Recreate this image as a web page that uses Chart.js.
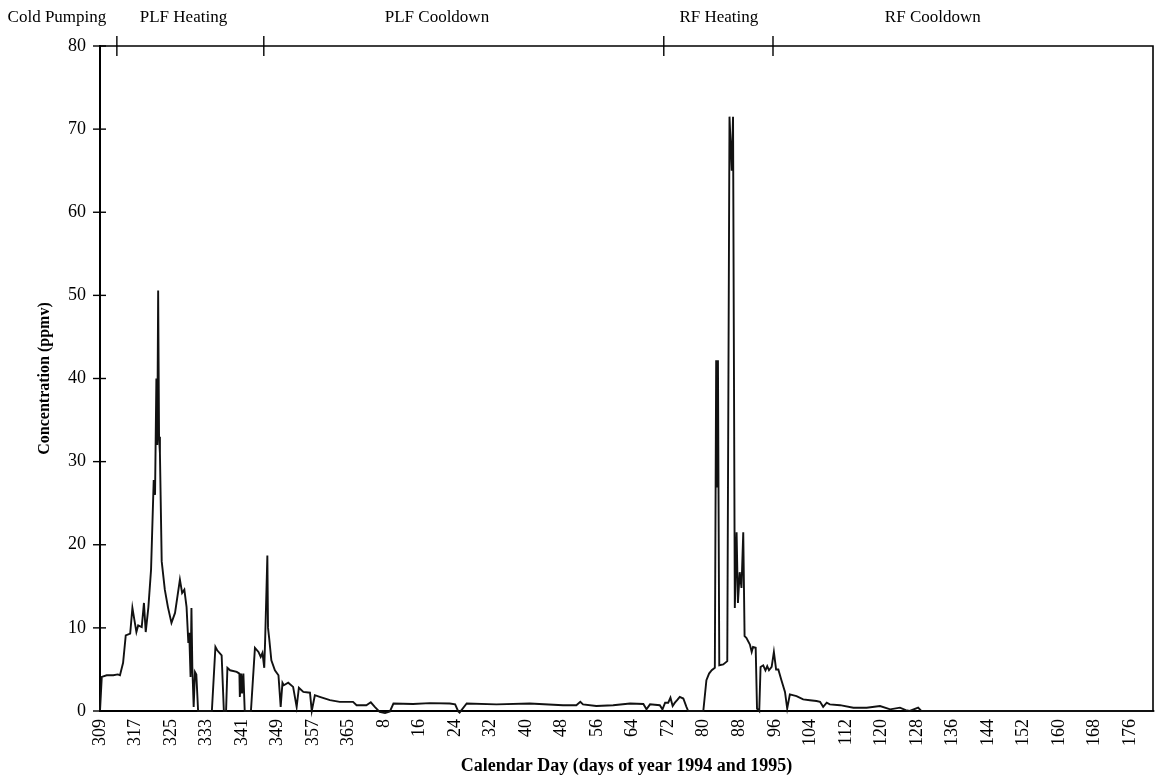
<!DOCTYPE html>
<html>
<head>
<meta charset="utf-8">
<script src="https://cdn.jsdelivr.net/npm/chart.js@4/dist/chart.umd.min.js"></script>
<style>
  html, body { margin: 0; padding: 0; background: #fff; }
  #wrap { width: 1164px; height: 780px; position: relative; }
</style>
</head>
<body>
<div id="wrap"><canvas id="c" width="1164" height="780"></canvas></div>
<script>
// Day axis counts continuously: 1994 days as-is, 1995 days offset by 365.
const days = [
  309.0, 309.4, 310.5, 312.0, 313.0, 313.5, 314.2, 314.8, 315.8, 316.3,
  317.2, 317.6, 318.4, 318.9, 319.3, 319.9, 320.5, 321.1, 321.4, 321.7,
  321.9, 322.1, 322.3, 322.5, 322.9, 323.6, 324.3, 325.1, 325.9, 327.0,
  327.5, 328.0, 328.5, 328.9, 329.1, 329.4, 329.6, 329.8, 330.1, 330.4,
  330.7, 331.1, 334.2, 335.0, 335.4, 336.4, 336.9, 337.4, 337.7, 338.3,
  339.8, 340.4, 340.5, 340.8, 341.0, 341.3, 341.6, 343.0, 343.9, 344.7,
  345.2, 345.6, 346.0, 346.2, 346.5, 346.7, 346.85, 347.1, 347.6, 348.4,
  349.2, 349.7, 350.1, 350.4, 351.4, 352.5, 353.3, 353.8, 354.8, 356.3,
  356.7, 357.4, 358.5, 360.8, 363.0, 366.0, 366.8, 369.0, 370.0, 370.9,
  372.0, 373.2, 374.3, 375.1, 379.5, 383.3, 387.8, 389.0, 389.7, 390.0,
  391.6, 398.3, 405.8, 413.3, 416.3, 417.2, 417.8, 420.8, 424.6, 428.4,
  431.4, 432.1, 432.9, 435.1, 435.7, 436.3, 437.0, 437.5, 438.0, 438.5,
  439.0, 439.6, 440.4, 441.1, 441.5, 444.9, 445.6, 446.2, 446.8, 447.5,
  447.8, 448.0, 448.2, 448.5, 449.4, 450.3, 450.8, 451.3, 451.6, 452.0,
  452.4, 452.7, 453.1, 453.5, 453.9, 454.2, 454.6, 455.4, 455.8, 456.1,
  456.7, 457.0, 457.5, 457.8, 458.4, 458.9, 459.3, 459.7, 460.3, 460.8,
  461.3, 461.8, 462.5, 463.3, 463.8, 464.4, 465.9, 467.4, 468.9, 470.4,
  471.2, 471.9, 472.7, 473.4, 475.7, 478.7, 481.7, 484.7, 487.0, 489.2,
  490.5, 491.4, 493.3, 494.0, 546.5
];

// Concentration, ppmv
const ppmv = [
  0, 4.1, 4.3, 4.3, 4.4, 4.3, 5.8, 9.1, 9.3, 12.4,
  9.5, 10.3, 10.1, 13.0, 9.5, 12.5, 17.0, 27.8, 26.0, 40.0,
  32.0, 50.6, 33.0, 31.0, 18.0, 14.6, 12.5, 10.6, 11.8, 15.8,
  14.2, 14.6, 12.5, 8.2, 9.4, 4.1, 12.4, 5.3, 0.5, 4.7,
  4.4, 0, 0, 7.7, 7.3, 6.7, 0, 0, 5.2, 4.9,
  4.7, 4.5, 1.7, 4.5, 2.1, 4.5, 0, 0, 7.6, 7.1,
  6.5, 7.0, 5.2, 8.5, 14.6, 18.7, 10.0, 8.8, 6.1, 4.9,
  4.3, 0.5, 3.4, 3.1, 3.4, 2.9, 0.5, 2.8, 2.3, 2.2,
  0, 1.9, 1.7, 1.3, 1.1, 1.1, 0.7, 0.7, 1.05, 0.5,
  -0.1, -0.25, -0.05, 0.9, 0.85, 0.95, 0.9, 0.8, -0.05, -0.2,
  0.9, 0.8, 0.9, 0.7, 0.7, 1.1, 0.8, 0.6, 0.7, 0.9,
  0.85, 0.2, 0.8, 0.7, 0.2, 1.0, 1.0, 1.6, 0.6, 1.0,
  1.3, 1.7, 1.5, 0.5, 0, 0, 3.7, 4.5, 4.9, 5.2,
  42.2, 27.0, 42.2, 5.5, 5.6, 6.0, 71.5, 65.0, 71.5, 12.4,
  21.5, 13.0, 16.7, 14.8, 21.5, 9.0, 8.8, 8.0, 7.1, 7.7,
  7.6, 0.3, 0, 5.3, 5.5, 4.9, 5.4, 4.9, 5.3, 7.1,
  5.0, 5.0, 3.7, 2.3, 0.3, 2.0, 1.8, 1.4, 1.3, 1.2,
  1.1, 0.5, 1.0, 0.8, 0.7, 0.4, 0.4, 0.6, 0.2, 0.4,
  0.1, 0, 0.4, 0, 0
];

// Bottom axis labels (calendar day of 1994, then of 1995)
const tickLabels = [
  '309', '317', '325', '333', '341', '349', '357', '365',
  '8', '16', '24', '32', '40', '48', '56', '64', '72', '80', '88', '96',
  '104', '112', '120', '128', '136', '144', '152', '160', '168', '176'
];

// Operating phases along the top of the plot
const phaseNames = ['Cold Pumping', 'PLF Heating', 'PLF Cooldown', 'RF Heating', 'RF Cooldown'];
const phaseLabelDay = [299.3, 327.8, 384.9, 448.4, 496.6];
const phaseBoundaries = [312.8, 345.9, 436.0, 460.6];

const tickDays = tickLabels.map(t => Number(t) + (Number(t) < 300 ? 365 : 0));
const labelFor = v => String(v > 365 ? v - 365 : v);

const SERIF = "'Liberation Serif', 'Times New Roman', serif";
Chart.defaults.font.family = SERIF;
Chart.defaults.color = '#000';

const framePlugin = {
  id: 'frame',
  afterDraw(chart) {
    const { ctx, chartArea: a, scales } = chart;
    const xs = scales.x, ys = scales.y;
    ctx.save();
    ctx.strokeStyle = '#000';
    ctx.lineWidth = 1.6;
    // top and right edges of the plot box
    ctx.beginPath();
    ctx.moveTo(a.left, a.top);
    ctx.lineTo(a.right, a.top);
    ctx.lineTo(a.right, a.bottom);
    ctx.stroke();
    // y tick marks crossing the axis
    ctx.lineWidth = 1.4;
    ys.ticks.forEach(t => {
      const y = ys.getPixelForValue(t.value);
      ctx.beginPath();
      ctx.moveTo(a.left - 7, y);
      ctx.lineTo(a.left + 6, y);
      ctx.stroke();
    });
    // phase boundary marks on the top edge
    phaseBoundaries.forEach(d => {
      const x = xs.getPixelForValue(d);
      ctx.beginPath();
      ctx.moveTo(x, a.top - 10);
      ctx.lineTo(x, a.top + 10);
      ctx.stroke();
    });
    // phase names
    ctx.fillStyle = '#000';
    ctx.font = '17px ' + SERIF;
    ctx.textAlign = 'center';
    ctx.textBaseline = 'middle';
    phaseNames.forEach((n, i) => {
      ctx.fillText(n, xs.getPixelForValue(phaseLabelDay[i]), a.top - 28);
    });
    ctx.restore();
  }
};

new Chart(document.getElementById('c'), {
  type: 'line',
  data: {
    datasets: [{
      data: days.map((d, i) => ({ x: d, y: ppmv[i] })),
      borderColor: '#111',
      borderWidth: 1.9,
      pointRadius: 0,
      tension: 0,
      fill: false,
      clip: false
    }]
  },
  options: {
    responsive: false,
    animation: false,
    devicePixelRatio: 1,
    layout: { padding: { top: 46, right: 11, left: 0, bottom: 0 } },
    plugins: { legend: { display: false }, tooltip: { enabled: false } },
    scales: {
      x: {
        type: 'linear',
        min: 309,
        max: 546.2,
        afterBuildTicks: s => { s.ticks = tickDays.map(v => ({ value: v })); },
        afterFit: s => { s.height = 69; },
        grid: { display: false, drawTicks: false },
        border: { display: true, color: '#000', width: 2 },
        ticks: {
          autoSkip: false,
          minRotation: 90,
          maxRotation: 90,
          padding: 8,
          font: { size: 18 },
          callback: v => labelFor(v)
        },
        title: {
          display: true,
          text: 'Calendar Day (days of year 1994 and 1995)',
          font: { size: 18, weight: 'bold' },
          padding: { top: 0, bottom: 3 }
        }
      },
      y: {
        min: 0,
        max: 80,
        afterFit: s => { s.width = 100; },
        grid: { display: false, drawTicks: false },
        border: { display: true, color: '#000', width: 2 },
        ticks: { stepSize: 10, padding: 14, font: { size: 18 } },
        title: {
          display: true,
          text: 'Concentration (ppmv)',
          font: { size: 16, weight: 'bold' },
          padding: { top: 35, bottom: 0 }
        }
      }
    }
  },
  plugins: [framePlugin]
});
</script>
</body>
</html>
